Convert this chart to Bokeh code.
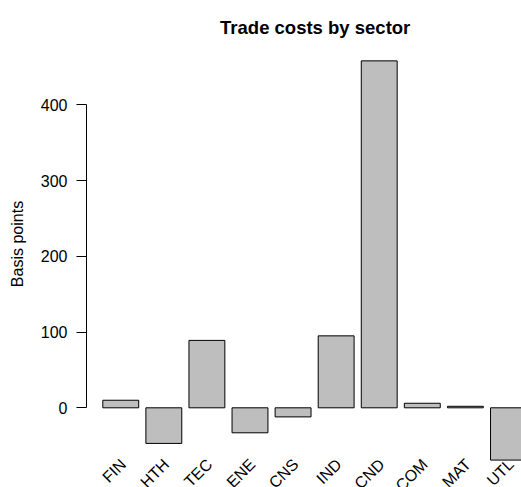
from bokeh.plotting import figure
from bokeh.models import FixedTicker, Range1d, ColumnDataSource, Label
from bokeh.core.properties import value
from bokeh.embed import file_html
from bokeh.resources import INLINE
import math

sectors = ["FIN", "HTH", "TEC", "ENE", "CNS", "IND", "CND", "COM", "MAT", "UTL"]
costs = [10, -47, 89, -33, -12, 95, 458, 6, 2, -69]
y_ticks = [0, 100, 200, 300, 400]
title_text = "Trade costs by sector"
y_title = "Basis points"

FONT = "Liberation Sans"

# R barplot layout: width 1, space 0.2
centers = [0.7 + 1.2 * i for i in range(len(sectors))]

src = ColumnDataSource(dict(x=centers, top=costs, sector=sectors))
lab_src = ColumnDataSource(dict(x=[c + 0.07 for c in centers],
                                y=[-71] * len(sectors), text=sectors))

p = figure(width=521, height=487, output_backend="svg", toolbar_location=None,
           x_range=Range1d(-0.254, 11.863), y_range=Range1d(-105.2, 537.7),
           min_border_left=86, min_border_right=0, min_border_top=0,
           min_border_bottom=0)

p.vbar(x="x", top="top", bottom=0, width=1.0, source=src,
       fill_color="#BEBEBE", line_color="black", line_width=1)

p.text(x="x", y="y", text="text", source=lab_src, angle=math.pi / 4,
       text_align="right", text_baseline="middle",
       text_font=value(FONT), text_font_size="16px", text_color="black")

p.add_layout(Label(x=6.116, y=502, text=title_text, text_align="center",
                   text_baseline="alphabetic", text_font=FONT,
                   text_font_size="18.5px", text_font_style="bold",
                   text_color="black"))

p.xaxis.visible = False
p.xgrid.visible = False
p.ygrid.visible = False
p.outline_line_color = None
p.background_fill_color = "white"
p.border_fill_color = "white"

ya = p.yaxis[0]
ya.ticker = FixedTicker(ticks=y_ticks)
ya.bounds = (0, 400)
ya.minor_tick_line_color = None
ya.major_tick_in = 0
ya.major_tick_out = 10
ya.major_label_standoff = 9
ya.major_label_text_font = FONT
ya.major_label_text_font_size = "16px"
ya.major_label_text_color = "black"
ya.axis_line_color = "black"
ya.major_tick_line_color = "black"
ya.axis_label = y_title
ya.axis_label_text_font = FONT
ya.axis_label_text_font_size = "16px"
ya.axis_label_text_font_style = "normal"
ya.axis_label_text_color = "black"
ya.axis_label_standoff = 12

open("out.html", "w").write(file_html(p, INLINE))
